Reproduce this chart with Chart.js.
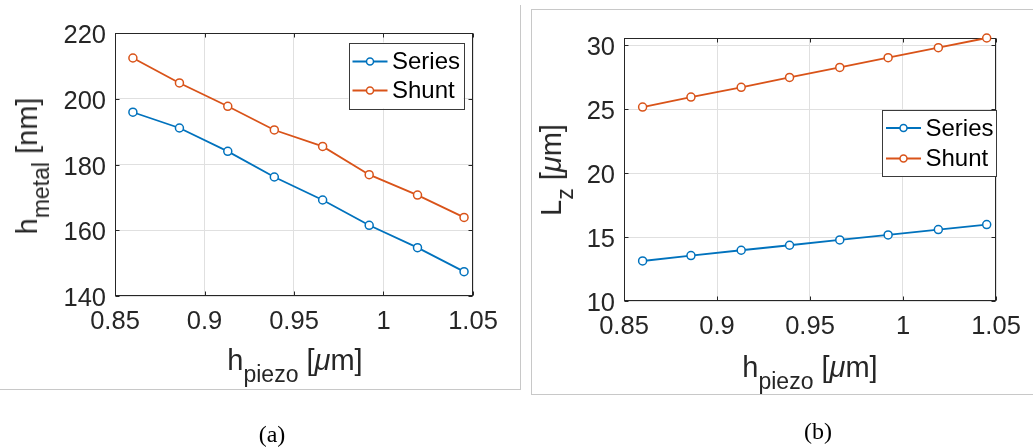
<!DOCTYPE html>
<html>
<head>
<meta charset="utf-8">
<script src="https://cdn.jsdelivr.net/npm/chart.js@4.4.0/dist/chart.umd.min.js"></script>
<style>
  body { margin: 0; background: #fff; width: 1033px; height: 448px; position: relative; overflow: hidden;
         font-family: 'Liberation Sans', Arial, sans-serif; }
  .panel { position: absolute; }
  .frame { position: absolute; border: 0 solid #c8c8c8; }
  .axtitle { position: absolute; color: #262626; font-size: 29px; line-height: 29px; white-space: nowrap; }
  .axtitle sub { font-size: 23px; line-height: 0; vertical-align: -12px; }
  .ytitle { transform-origin: 0 0; transform: rotate(-90deg) translateX(-50%); }
  .xtitle { transform: translateX(-50%); }
  .caption { position: absolute; font-family: 'Liberation Serif', 'Times New Roman', serif; font-size: 24px;
             color: #000; transform: translate(-50%, -50%); }
</style>
</head>
<body>
<div class="frame" style="left:-2px; top:5px; width:522px; height:384px; border-right-width:1.5px; border-bottom-width:1.5px;"></div>
<div class="frame" style="left:531px; top:9px; width:520px; height:384px; border-left-width:1.5px; border-top-width:1.5px; border-bottom-width:1.5px;"></div>

<div class="panel" style="left:0; top:0;"><canvas id="metalChart" width="520" height="390"></canvas></div>
<div class="panel" style="left:532px; top:10px;"><canvas id="lzChart" width="501" height="384"></canvas></div>

<div class="axtitle ytitle" style="left:13px; top:166px;">h<sub>metal</sub> [nm]</div>
<div class="axtitle xtitle" style="left:295px; top:346px;">h<sub>piezo</sub> [<i>μ</i>m]</div>
<div class="axtitle ytitle" style="left:537px; top:170px;">L<sub>z</sub> [<i>μ</i>m]</div>
<div class="axtitle xtitle" style="left:810px; top:353px;">h<sub>piezo</sub> [<i>μ</i>m]</div>

<div class="caption" style="left:272px; top:434px;">(a)</div>
<div class="caption" style="left:818px; top:431px;">(b)</div>

<script>
// values
const hPiezo = [0.860, 0.886, 0.913, 0.939, 0.966, 0.992, 1.019, 1.045];
const hMetalSeries = [195.9, 191.1, 184.0, 176.2, 169.2, 161.5, 154.7, 147.4];
const hMetalShunt = [212.4, 204.8, 197.7, 190.5, 185.5, 176.9, 170.7, 163.9];
const lzSeries = [13.13, 13.55, 13.97, 14.36, 14.78, 15.17, 15.59, 15.98];
const lzShunt = [25.17, 25.95, 26.71, 27.49, 28.27, 29.03, 29.81, 30.57];
const seriesNames = ["Series", "Shunt"];

const xTicks = [0.85, 0.9, 0.95, 1, 1.05];
const metalTicks = [140, 160, 180, 200, 220];
const lzTicks = [10, 15, 20, 25, 30];

const seriesColor = "#0072BD";
const shuntColor = "#D95319";
const axisColor = "#262626";
const gridColor = "#e0e0e0";

Chart.defaults.font.family = "'Liberation Sans', Arial, sans-serif";

function fmt(v) {
  return String(Number(v.toFixed(2)));
}

function toPoints(ys) {
  return hPiezo.map((x, i) => ({ x: x, y: ys[i] }));
}

// box around the axes + inward tick marks (matlab look)
const axesBox = {
  id: "axesBox",
  beforeDatasetsDraw(chart) {
    const ctx = chart.ctx, a = chart.chartArea;
    const xs = chart.scales.x, ys = chart.scales.y;
    const l = Math.round(a.left) + 0.5, r = Math.round(a.right) - 0.5;
    const t = Math.round(a.top) + 0.5, b = Math.round(a.bottom) - 0.5;
    ctx.save();
    ctx.strokeStyle = axisColor;
    ctx.lineWidth = 1;
    ctx.strokeRect(l, t, r - l, b - t);
    ctx.beginPath();
    xs.ticks.forEach(tk => {
      const px = Math.round(xs.getPixelForValue(tk.value)) + 0.5;
      ctx.moveTo(px, b); ctx.lineTo(px, b - 4);
      ctx.moveTo(px, t); ctx.lineTo(px, t + 4);
    });
    ys.ticks.forEach(tk => {
      const py = Math.round(ys.getPixelForValue(tk.value)) + 0.5;
      ctx.moveTo(l, py); ctx.lineTo(l + 4, py);
      ctx.moveTo(r, py); ctx.lineTo(r - 4, py);
    });
    ctx.stroke();
    ctx.restore();
  }
};

// legend drawn inside the plot area
const boxLegend = {
  id: "boxLegend",
  afterDraw(chart, args, opts) {
    const ctx = chart.ctx, a = chart.chartArea;
    const x0 = a.right - opts.right - opts.width;
    const y0 = a.top + opts.top;
    ctx.save();
    ctx.fillStyle = "#fff";
    ctx.fillRect(x0, y0, opts.width, opts.height);
    ctx.strokeStyle = "#3a3a3a";
    ctx.lineWidth = 1;
    ctx.strokeRect(Math.round(x0) + 0.5, Math.round(y0) + 0.5, opts.width, opts.height);
    chart.data.datasets.forEach((ds, i) => {
      const y = y0 + opts.rows[i];
      ctx.strokeStyle = ds.borderColor;
      ctx.lineWidth = 1.8;
      ctx.beginPath();
      ctx.moveTo(x0 + 4, y); ctx.lineTo(x0 + 39, y);
      ctx.stroke();
      ctx.beginPath();
      ctx.arc(x0 + 21.5, y, 3.5, 0, Math.PI * 2);
      ctx.fillStyle = "#fff";
      ctx.fill();
      ctx.lineWidth = 1.5;
      ctx.stroke();
      ctx.fillStyle = "#000";
      ctx.font = "24px 'Liberation Sans', Arial, sans-serif";
      ctx.textBaseline = "middle";
      ctx.fillText(ds.label, x0 + 43.5, y + 1);
    });
    ctx.restore();
  }
};

function makeChart(id, seriesVals, shuntVals, yMin, yMax, yTicks, layout, legendOpts) {
  const ctx = document.getElementById(id).getContext("2d");
  const dsStyle = {
    borderWidth: 1.8,
    pointRadius: 4,
    pointBorderWidth: 1.5,
    pointBackgroundColor: "#fff",
    tension: 0,
    clip: false,
  };
  return new Chart(ctx, {
    type: "line",
    data: {
      datasets: [
        Object.assign({ label: seriesNames[0], data: toPoints(seriesVals), borderColor: seriesColor, pointBorderColor: seriesColor }, dsStyle),
        Object.assign({ label: seriesNames[1], data: toPoints(shuntVals), borderColor: shuntColor, pointBorderColor: shuntColor }, dsStyle),
      ],
    },
    options: {
      responsive: false,
      animation: false,
      layout: { padding: layout.padding },
      scales: {
        x: {
          type: "linear",
          min: 0.85,
          max: 1.05,
          afterBuildTicks: s => { s.ticks = xTicks.map(v => ({ value: v })); },
          afterFit: s => { s.height = layout.xHeight; },
          grid: { color: gridColor, drawTicks: false },
          border: { display: false },
          ticks: { color: axisColor, font: { size: 25.5 }, padding: 11, maxRotation: 0, autoSkip: false, callback: v => fmt(v) },
        },
        y: {
          min: yMin,
          max: yMax,
          afterBuildTicks: s => { s.ticks = yTicks.map(v => ({ value: v })); },
          afterFit: s => { s.width = layout.yWidth; },
          grid: { color: gridColor, drawTicks: false },
          border: { display: false },
          ticks: { color: axisColor, font: { size: 25.5 }, padding: 9, labelOffset: 3, autoSkip: false, callback: v => fmt(v) },
        },
      },
      plugins: {
        legend: { display: false },
        tooltip: { enabled: false },
        boxLegend: legendOpts,
      },
    },
    plugins: [axesBox, boxLegend],
  });
}

makeChart("metalChart", hMetalSeries, hMetalShunt, 140, 220, metalTicks,
  { padding: { top: 33, right: 47, left: 0, bottom: 0 }, xHeight: 94, yWidth: 115 },
  { right: 9.5, top: 9.5, width: 115, height: 66, rows: [19, 48] });

makeChart("lzChart", lzSeries, lzShunt, 10, 30.57, lzTicks,
  { padding: { top: 28, right: 37, left: 0, bottom: 0 }, xHeight: 93, yWidth: 92 },
  { right: 0, top: 72, width: 114, height: 66, rows: [18, 48.5] });
</script>
</body>
</html>
